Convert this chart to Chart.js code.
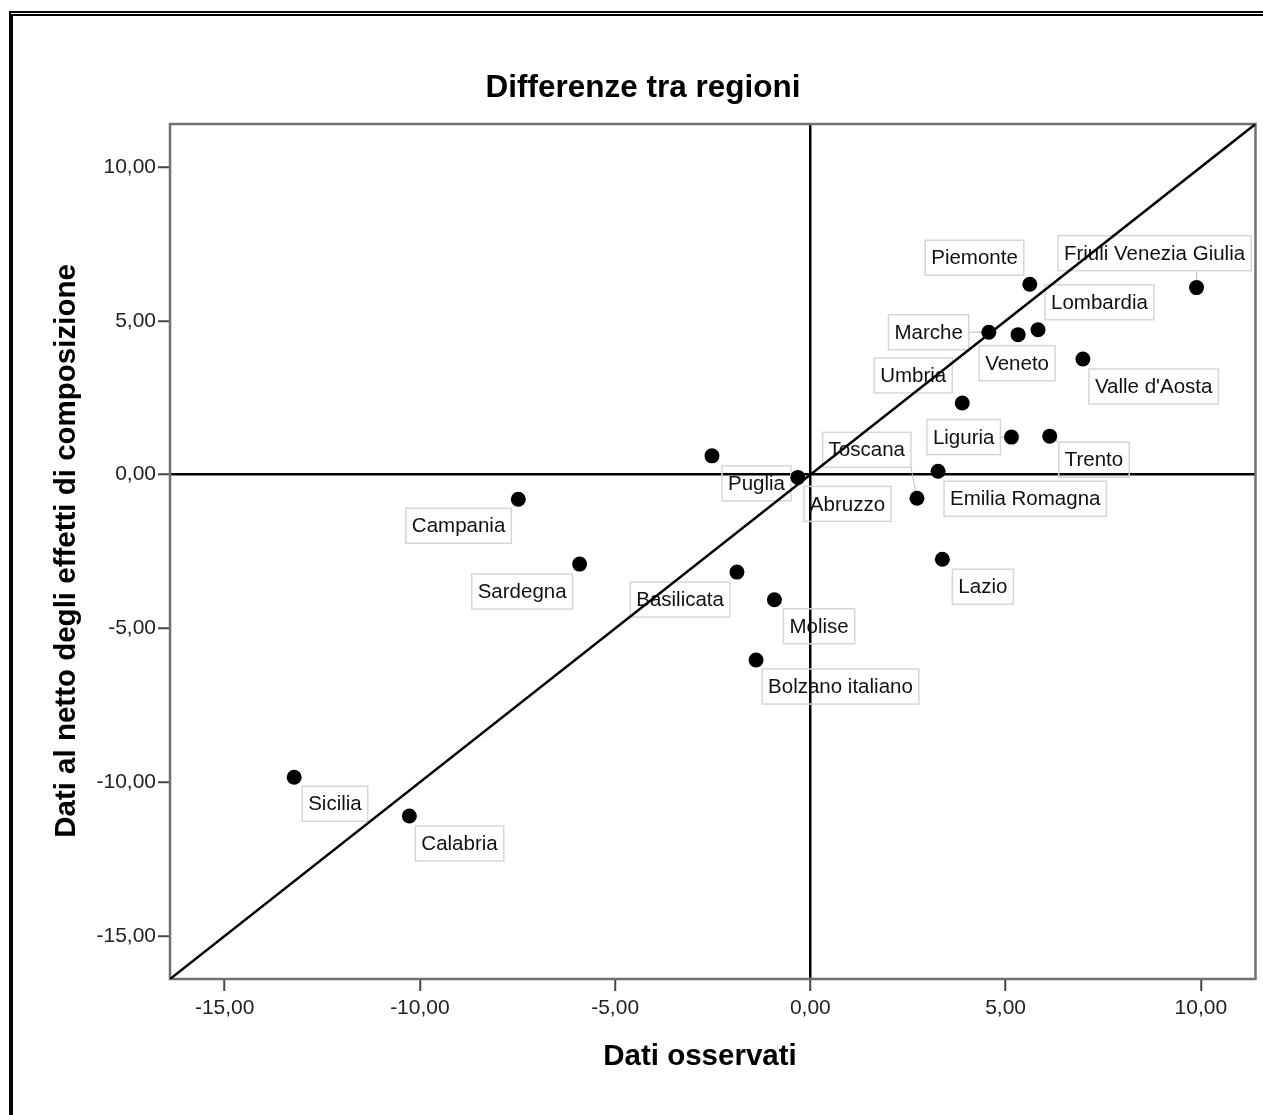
<!DOCTYPE html>
<html>
<head>
<meta charset="utf-8">
<title>Differenze tra regioni</title>
<script src="https://cdn.jsdelivr.net/npm/chart.js@4.4.1/dist/chart.umd.min.js"></script>
<style>
  html, body { margin: 0; padding: 0; background: #fff; }
  #wrap { position: relative; width: 1263px; height: 1115px; overflow: hidden; }
  #frame { position: absolute; left: 9px; top: 11px; width: 1300px; height: 1200px;
           border-left: 4px solid #000; border-top: 5px double #000; }
  #chart { position: absolute; left: 0; top: 0; }
</style>
</head>
<body>
<div id="wrap">
  <div id="frame"></div>
  <canvas id="chart" width="1263" height="1115"></canvas>
</div>
<script>
// data
const regions = [
  "Piemonte", "Valle d'Aosta", "Lombardia", "Trento", "Bolzano italiano",
  "Veneto", "Friuli Venezia Giulia", "Liguria", "Emilia Romagna", "Toscana",
  "Umbria", "Marche", "Lazio", "Abruzzo", "Molise", "Campania", "Puglia",
  "Basilicata", "Calabria", "Sicilia", "Sardegna"
];
const observed = [
  5.62, 6.98, 5.83, 6.13, -1.39,
  5.32, 9.89, 5.15, 3.27, 2.73,
  3.89, 4.57, 3.38, -0.32, -0.92, -7.48, -2.52,
  -1.88, -10.27, -13.22, -5.91
];
const netOfComposition = [
  6.19, 3.76, 4.71, 1.25, -6.03,
  4.55, 6.08, 1.22, 0.11, -0.77,
  2.33, 4.63, -2.75, -0.09, -4.07, -0.80, 0.61,
  -3.17, -11.10, -9.84, -2.91
];
const xTicks = [-15, -10, -5, 0, 5, 10];
const yTicks = [-15, -10, -5, 0, 5, 10];
const axisMin = -16.4;
const axisMax = 11.4;

// where each label box sits relative to its point: [h anchor, dx, v anchor, dy, leader line]
const labelPlacement = [
  ["right", -6, "bottom", -9, false],
  ["left", 6, "top", 10, false],
  ["left", 7, "bottom", -10, false],
  ["left", 9, "top", 6, true],
  ["left", 6, "top", 9, false],
  ["center", -1, "top", 11, false],
  ["center", -42, "bottom", -17, true],
  ["right", -11, "middle", 0, true],
  ["left", 6, "top", 10, false],
  ["right", -6, "bottom", -31, true],
  ["right", -10, "bottom", -10, false],
  ["right", -20, "middle", 0, true],
  ["left", 10, "top", 10, false],
  ["left", 6, "top", 9, false],
  ["left", 9, "top", 9, false],
  ["right", -7, "top", 9, false],
  ["left", 10, "top", 10, false],
  ["right", -7, "top", 10, false],
  ["left", 6, "top", 10, false],
  ["left", 8, "top", 9, false],
  ["right", -7, "top", 10, false]
];

const FONT = '"Liberation Sans", Arial, sans-serif';

function formatTick(v) {
  return v.toFixed(2).replace(".", ",");
}

const points = regions.map((r, i) => ({ x: observed[i], y: netOfComposition[i] }));

const frameBox = {
  id: "frameBox",
  beforeDatasetsDraw(chart) {
    const { ctx, chartArea: a } = chart;
    ctx.save();
    ctx.strokeStyle = "#707070";
    ctx.lineWidth = 2.5;
    ctx.strokeRect(a.left, a.top, a.right - a.left, a.bottom - a.top);
    ctx.restore();
  }
};

const pointLabels = {
  id: "pointLabels",
  beforeDatasetsDraw(chart) {
    const { ctx } = chart;
    const xs = chart.scales.x, ys = chart.scales.y;
    ctx.save();
    ctx.font = "20.5px " + FONT;
    ctx.textBaseline = "middle";
    ctx.textAlign = "center";
    regions.forEach((name, i) => {
      const px = xs.getPixelForValue(observed[i]);
      const py = ys.getPixelForValue(netOfComposition[i]);
      const [ha, dx, va, dy, leader] = labelPlacement[i];
      const w = ctx.measureText(name).width + 12;
      const h = 35;
      let left = px + dx;
      if (ha === "right") left = px + dx - w;
      if (ha === "center") left = px + dx - w / 2;
      let top = py + dy;
      if (va === "bottom") top = py + dy - h;
      if (va === "middle") top = py + dy - h / 2;

      if (leader) {
        const lx = Math.min(Math.max(px, left), left + w);
        const ly = Math.min(Math.max(py, top), top + h);
        ctx.strokeStyle = "#bdbdbd";
        ctx.lineWidth = 1;
        ctx.beginPath();
        ctx.moveTo(lx, ly);
        ctx.lineTo(px, py);
        ctx.stroke();
      }
      ctx.strokeStyle = "#d6d6d6";
      ctx.lineWidth = 1.5;
      ctx.strokeRect(left, top, w, h);
      ctx.fillStyle = "#111";
      ctx.fillText(name, left + w / 2, top + h / 2 + 1);
    });
    ctx.restore();
  }
};

const titles = {
  id: "titles",
  afterDraw(chart) {
    const { ctx } = chart;
    ctx.save();
    ctx.fillStyle = "#000";
    ctx.textAlign = "center";
    ctx.textBaseline = "middle";
    ctx.font = "bold 31.5px " + FONT;
    ctx.fillText("Differenze tra regioni", 643, 88);
    ctx.font = "bold 29.5px " + FONT;
    ctx.fillText("Dati osservati", 700, 1057);
    ctx.translate(67, 551);
    ctx.rotate(-Math.PI / 2);
    ctx.fillText("Dati al netto degli effetti di composizione", 0, 0);
    ctx.restore();
  }
};

function zeroLine(c) {
  return c.tick && c.tick.value === 0 ? "#000" : "rgba(0,0,0,0)";
}

new Chart(document.getElementById("chart"), {
  type: "scatter",
  data: {
    datasets: [
      {
        data: points,
        backgroundColor: "#000",
        borderWidth: 0,
        pointRadius: 7.5,
        pointHoverRadius: 7.5
      },
      {
        type: "line",
        data: [{ x: axisMin, y: axisMin }, { x: axisMax, y: axisMax }],
        borderColor: "#000",
        borderWidth: 2.5,
        pointRadius: 0,
        fill: false
      }
    ]
  },
  options: {
    responsive: false,
    animation: false,
    events: [],
    layout: { padding: { top: 124, right: 6, left: 0, bottom: 0 } },
    plugins: {
      legend: { display: false },
      tooltip: { enabled: false }
    },
    scales: {
      x: {
        type: "linear",
        min: axisMin,
        max: axisMax,
        afterFit: s => { s.height = 136; },
        afterBuildTicks: s => { s.ticks = xTicks.map(v => ({ value: v })); },
        border: { display: false },
        grid: { color: zeroLine, lineWidth: 2.5, tickColor: "#444", tickWidth: 2, tickLength: 12 },
        ticks: {
          font: { family: FONT, size: 21 },
          color: "#222",
          padding: 5,
          maxRotation: 0,
          callback: v => formatTick(v)
        }
      },
      y: {
        type: "linear",
        min: axisMin,
        max: axisMax,
        afterFit: s => { s.width = 170; },
        afterBuildTicks: s => { s.ticks = yTicks.map(v => ({ value: v })); },
        border: { display: false },
        grid: { color: zeroLine, lineWidth: 2.5, tickColor: "#444", tickWidth: 2, tickLength: 12 },
        ticks: {
          font: { family: FONT, size: 21 },
          color: "#222",
          padding: 2,
          callback: v => formatTick(v)
        }
      }
    }
  },
  plugins: [frameBox, pointLabels, titles]
});
</script>
</body>
</html>
